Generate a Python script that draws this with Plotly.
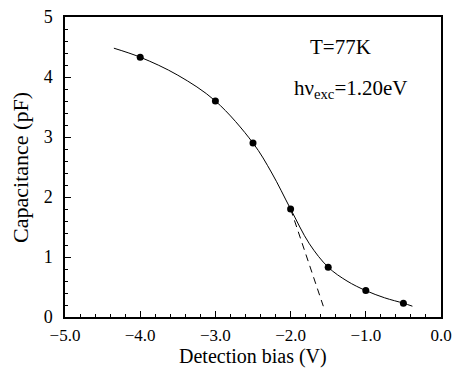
import plotly.graph_objects as go

# measured data points
bias = [-4.0, -3.0, -2.5, -2.0, -1.5, -1.0, -0.5]
capacitance = [4.33, 3.60, 2.90, 1.80, 0.83, 0.44, 0.23]

# smooth guide curve
curve_x = [-4.35, -4.0, -3.5, -3.0, -2.5, -2.25, -2.0, -1.75, -1.5, -1.25, -1.0, -0.75, -0.5, -0.38]
curve_y = [4.48, 4.33, 4.03, 3.60, 2.90, 2.40, 1.80, 1.22, 0.83, 0.60, 0.44, 0.32, 0.23, 0.18]

# dashed tangent line
dash_x = [-2.0, -1.565]
dash_y = [1.80, 0.18]

font = "Liberation Serif, Times New Roman, serif"

fig = go.Figure()
fig.add_trace(go.Scatter(x=curve_x, y=curve_y, mode="lines",
                         line=dict(color="black", width=1, shape="spline", smoothing=1.0),
                         showlegend=False, hoverinfo="skip"))
fig.add_trace(go.Scatter(x=dash_x, y=dash_y, mode="lines",
                         line=dict(color="black", width=1, dash="7px,5px"),
                         showlegend=False, hoverinfo="skip"))
fig.add_trace(go.Scatter(x=bias, y=capacitance, mode="markers",
                         marker=dict(color="black", size=7),
                         showlegend=False))

fig.add_annotation(x=-1.33, y=4.5, text="T=77K", showarrow=False,
                   font=dict(family=font, size=21, color="black"))
fig.add_annotation(x=-1.2, y=3.8, text="hν<sub>exc</sub>=1.20eV", showarrow=False,
                   font=dict(family=font, size=21, color="black"))

# axis titles as annotations for exact placement
fig.add_annotation(x=0.5, y=-0.1317, xref="paper", yref="paper", text="Detection bias (V)",
                   showarrow=False, yanchor="middle", xanchor="center",
                   font=dict(family=font, size=20, color="black"))
fig.add_annotation(x=-0.12, y=0.5, xref="paper", yref="paper", text="Capacitance (pF)",
                   showarrow=False, textangle=-90, yanchor="middle", xanchor="center",
                   font=dict(family=font, size=22, color="black"))

fig.update_layout(
    width=454, height=368,
    margin=dict(l=65, r=13, t=17, b=51),
    paper_bgcolor="white", plot_bgcolor="white",
    font=dict(family=font, color="black"),
)
fig.update_xaxes(range=[-5, 0], dtick=1.0, tick0=-5, tickformat=".1f",
                 ticks="inside", ticklen=6, tickwidth=1, tickcolor="black",
                 minor=dict(dtick=0.2, ticks="inside", ticklen=3, tickcolor="black"),
                 showgrid=False, zeroline=False, automargin=False,
                 showline=True, linecolor="black", linewidth=2, mirror=True,
                 ticklabelstandoff=2,
                 tickfont=dict(family=font, size=17, color="black"))
fig.update_yaxes(range=[0, 5], dtick=1, tick0=0,
                 ticks="inside", ticklen=6, tickwidth=1, tickcolor="black",
                 minor=dict(dtick=0.2, ticks="inside", ticklen=3, tickcolor="black"),
                 showgrid=False, zeroline=False, automargin=False,
                 showline=True, linecolor="black", linewidth=1.5, mirror=True,
                 ticklabelstandoff=7,
                 tickfont=dict(family=font, size=18, color="black"))

fig.write_html("out.html")
